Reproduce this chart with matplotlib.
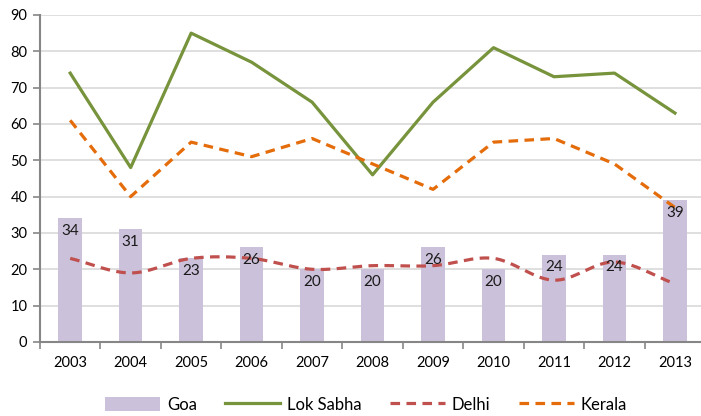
import numpy as np
import matplotlib.pyplot as plt
from matplotlib.patches import Patch
from matplotlib.lines import Line2D

plt.rcParams['font.family'] = ['Lato', 'DejaVu Sans']

years = ['2003', '2004', '2005', '2006', '2007', '2008', '2009', '2010', '2011', '2012', '2013']
goa = [34, 31, 23, 26, 20, 20, 26, 20, 24, 24, 39]
lok_sabha = [74, 48, 85, 77, 66, 46, 66, 81, 73, 74, 63]
delhi = [23, 19, 23, 23, 20, 21, 21, 23, 17, 22, 16]
kerala = [61, 40, 55, 51, 56, 49, 42, 55, 56, 49, 37]


def smooth(xs, ys, n=20):
    # catmull-rom through the points, like Excel's smoothed line
    xs = np.asarray(xs, float)
    ys = np.asarray(ys, float)
    px = np.concatenate([[2 * xs[0] - xs[1]], xs, [2 * xs[-1] - xs[-2]]])
    py = np.concatenate([[2 * ys[0] - ys[1]], ys, [2 * ys[-1] - ys[-2]]])
    outx, outy = [], []
    t = np.linspace(0, 1, n)
    for i in range(1, len(px) - 2):
        for p, out in ((px, outx), (py, outy)):
            p0, p1, p2, p3 = p[i - 1], p[i], p[i + 1], p[i + 2]
            out.extend(0.5 * (2 * p1 + (-p0 + p2) * t
                              + (2 * p0 - 5 * p1 + 4 * p2 - p3) * t ** 2
                              + (-p0 + 3 * p1 - 3 * p2 + p3) * t ** 3))
    return outx, outy


x = np.arange(len(years))

fig = plt.figure(figsize=(7.01, 4.16), dpi=100)
ax = fig.add_axes([0.057, 0.178, 0.949, 0.786])

bars = ax.bar(x, goa, width=0.39, color='#CCC1DA', zorder=2)
for xi, v in zip(x, goa):
    ax.text(xi, v - 1.5, str(v), ha='center', va='top', fontsize=11, color='#1a1a1a', zorder=5)

ax.plot(x, lok_sabha, color='#77933C', lw=2.3, zorder=3)
sx, sy = smooth(x, delhi)
ax.plot(sx, sy, color='#C0504D', lw=2.3, ls=(0, (3, 2)), zorder=3)
ax.plot(x, kerala, color='#E46C0A', lw=2.3, ls=(0, (3, 2)), zorder=3)

ax.set_xlim(-0.5, len(years) - 0.5)
ax.set_ylim(0, 90)
ax.set_yticks(range(0, 91, 10))
ax.yaxis.grid(True, color='#D9D9D9', lw=1.2, zorder=0)
ax.set_axisbelow(True)

ax.set_xticks(x)
ax.set_xticklabels(years)
ax.set_xticks(np.arange(-0.5, len(years), 1), minor=True)
ax.tick_params(axis='x', which='major', length=0, pad=10, labelsize=10.5)
ax.tick_params(axis='x', which='minor', length=5, color='#868686', width=1.2)
ax.tick_params(axis='y', length=5, color='#868686', width=1.2, labelsize=10.5, pad=4)

for s in ['top', 'right']:
    ax.spines[s].set_visible(False)
for s in ['left', 'bottom']:
    ax.spines[s].set_color('#868686')
    ax.spines[s].set_linewidth(1.5)

handles = [
    Patch(facecolor='#CCC1DA', label='Goa'),
    Line2D([], [], color='#77933C', lw=2.3, label='Lok Sabha'),
    Line2D([], [], color='#C0504D', lw=2.3, ls=(0, (3, 2)), label='Delhi'),
    Line2D([], [], color='#E46C0A', lw=2.3, ls=(0, (3, 2)), label='Kerala'),
]
fig.legend(handles=handles, loc='center', bbox_to_anchor=(0.522, 0.027), ncol=4,
           frameon=False, fontsize=12, handlelength=3.3, handletextpad=0.4,
           columnspacing=1.7, handleheight=0.9)

fig.savefig('out.png', dpi=100)
